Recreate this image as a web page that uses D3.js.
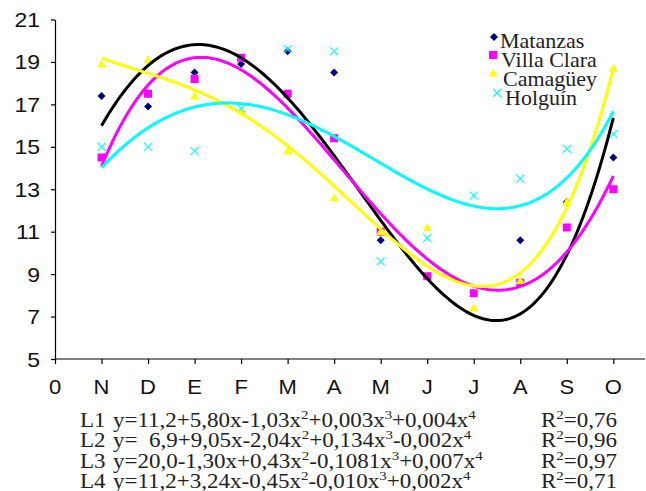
<!DOCTYPE html>
<html>
<head>
<meta charset="utf-8">
<script src="https://cdn.jsdelivr.net/npm/d3@7/dist/d3.min.js"></script>
<style>
body { margin: 0; background: #fff; }
text { white-space: pre; }
</style>
</head>
<body>
<svg id="chart" width="646" height="491"></svg>
<script>
// ---- data ----
var monthLabels = ['0', 'N', 'D', 'E', 'F', 'M', 'A', 'M', 'J', 'J', 'A', 'S', 'O'];
var yTicks = [5, 7, 9, 11, 13, 15, 17, 19, 21];
var seriesNames = ['Matanzas', 'Villa Clara', 'Camagüey', 'Holguín'];
// Matanzas J and J fall below the axis minimum (clipped in the picture)
var matanzas   = [17.4, 16.9, 18.5, 18.9, 19.5, 18.5, 10.6, 4.6, 4.1, 10.6, 12.4, 14.5];
var villaClara = [14.5, 17.5, 18.2, 19.2, 17.5, 15.4, 11.0, 8.9, 8.1, 8.6, 11.2, 13.0];
var camaguey   = [18.9, 19.1, 17.4, 16.7, 14.8, 12.6, 11.0, 11.2, 7.4, 8.7, 12.4, 18.7];
var holguin    = [15.0, 15.0, 14.8, 16.8, 19.6, 19.5, 9.6, 10.7, 12.7, 13.5, 14.9, 15.6];
var lineLabels = ['L1', 'L2', 'L3', 'L4'];
var equations = [
    'y=11,2+5,80x-1,03x^2+0,003x^3+0,004x^4',
    'y=  6,9+9,05x-2,04x^2+0,134x^3-0,002x^4',
    'y=20,0-1,30x+0,43x^2-0,1081x^3+0,007x^4',
    'y=11,2+3,24x-0,45x^2-0,010x^3+0,002x^4'
];
var rSquared = ['0,76', '0,96', '0,97', '0,71'];

var allSeries = [matanzas, villaClara, camaguey, holguin];
var markerColors = ['#000080', '#ff00ff', '#ffff00', '#00ffff'];
var trendColors = ['#000000', '#ff00ff', '#ffff00', '#00ffff'];
var markerTypes = ['diamond', 'square', 'triangle', 'cross'];

var svg = d3.select('#chart');

var x = d3.scaleLinear().domain([0, 12]).range([55, 613.3]);
var y = d3.scaleLinear().domain([5, 21]).range([359, 19.5]);

// least squares polynomial (like the spreadsheet trendline)
function polyfit(xs, ys, deg) {
    var n = deg + 1, A = [], i, j, k;
    for (i = 0; i < n; i++) {
        A.push([]);
        for (j = 0; j < n; j++) {
            A[i].push(d3.sum(xs, function(v) { return Math.pow(v, i + j); }));
        }
        A[i].push(d3.sum(xs, function(v, m) { return Math.pow(v, i) * ys[m]; }));
    }
    for (i = 0; i < n; i++) {
        var p = i;
        for (k = i + 1; k < n; k++) if (Math.abs(A[k][i]) > Math.abs(A[p][i])) p = k;
        var tmp = A[i]; A[i] = A[p]; A[p] = tmp;
        for (k = i + 1; k < n; k++) {
            var f = A[k][i] / A[i][i];
            for (j = i; j <= n; j++) A[k][j] -= f * A[i][j];
        }
    }
    var c = new Array(n);
    for (i = n - 1; i >= 0; i--) {
        var s = A[i][n];
        for (j = i + 1; j < n; j++) s -= A[i][j] * c[j];
        c[i] = s / A[i][i];
    }
    return function(v) {
        var r = 0;
        for (var q = 0; q < n; q++) r += c[q] * Math.pow(v, q);
        return r;
    };
}

function markerPath(type) {
    if (type === 'diamond') return 'M0,-4L4,0L0,4L-4,0Z';
    if (type === 'square') return 'M-4,-4H4V4H-4Z';
    if (type === 'triangle') return 'M0,-4.5L4.5,3.5H-4.5Z';
    return 'M-4,-4L4,4M4,-4L-4,4';
}

function drawMarker(g, type, color, cx, cy) {
    var p = g.append('path')
        .attr('transform', 'translate(' + cx + ',' + cy + ')')
        .attr('d', markerPath(type));
    if (type === 'cross') {
        p.attr('fill', 'none').attr('stroke', color).attr('stroke-width', 1.1);
    } else {
        p.attr('fill', color);
    }
}

// text a bit wider than tall, as in the picture
function stretchText(parent, tx, ty, sx, anchor) {
    return parent.append('g')
        .attr('transform', 'translate(' + tx + ',' + ty + ') scale(' + sx + ',1)')
        .append('text')
        .attr('text-anchor', anchor || 'start');
}

function addSupText(t, str) {
    var parts = str.split(/\^(\d)/);
    parts.forEach(function(part, i) {
        if (i % 2 === 0) {
            if (part) t.append('tspan').attr('dy', i === 0 ? 0 : 8).text(part);
        } else {
            t.append('tspan').attr('dy', -8).attr('font-size', 13).text(part);
        }
    });
}

svg.append('defs').append('clipPath').attr('id', 'plotClip')
    .append('rect').attr('x', 50).attr('y', y(21) - 6).attr('width', 596).attr('height', y(5) - y(21) + 6);

// ---- axes ----
var yAxis = d3.axisLeft(y).tickValues(yTicks).tickSize(4).tickSizeOuter(0).tickFormat('');
var gy = svg.append('g').attr('transform', 'translate(' + x(0) + ',0)').call(yAxis);
gy.selectAll('line, path').attr('stroke', '#000').attr('stroke-width', 1.2);

var xAxis = d3.axisBottom(x).tickValues(d3.range(0, 13)).tickSize(5).tickSizeOuter(0).tickFormat('');
var gx = svg.append('g').attr('transform', 'translate(0,' + y(5) + ')').call(xAxis);
gx.select('.domain').remove();
gx.selectAll('line').attr('stroke', '#000').attr('stroke-width', 1.2);
svg.append('line')
    .attr('x1', x(0)).attr('x2', 645)
    .attr('y1', y(5)).attr('y2', y(5))
    .attr('stroke', '#000').attr('stroke-width', 1.2);

yTicks.forEach(function(v) {
    stretchText(svg, 40, y(v) + 7.5, 1.15, 'end')
        .attr('font-family', 'Liberation Sans, Arial, sans-serif')
        .attr('font-size', 20)
        .attr('fill', '#111')
        .text(v);
});

monthLabels.forEach(function(m, i) {
    stretchText(svg, x(i), 394, 1.1, 'middle')
        .attr('font-family', 'Liberation Sans, Arial, sans-serif')
        .attr('font-size', 20)
        .attr('fill', '#111')
        .text(m);
});

// ---- markers then trend lines ----
var plot = svg.append('g').attr('clip-path', 'url(#plotClip)');
var months = d3.range(1, 13);

allSeries.forEach(function(vals, s) {
    vals.forEach(function(v, i) {
        drawMarker(plot, markerTypes[s], markerColors[s], x(months[i]), y(v));
    });
});

var line = d3.line()
    .x(function(d) { return x(d[0]); })
    .y(function(d) { return y(d[1]); });

allSeries.forEach(function(vals, s) {
    var fit = polyfit(months, vals, 4);
    var pts = d3.range(1, 12.001, 0.05).map(function(t) { return [t, fit(t)]; });
    plot.append('path')
        .attr('d', line(pts))
        .attr('fill', 'none')
        .attr('stroke', trendColors[s])
        .attr('stroke-width', 3)
        .attr('stroke-linejoin', 'round');
});

// ---- legend ----
var legendMarkerPos = [[494, 37], [493, 55], [493, 73], [497, 93]];
var legendTextPos = [[500, 48], [501, 67], [503, 86], [505, 105]];
seriesNames.forEach(function(name, s) {
    drawMarker(svg, markerTypes[s], markerColors[s], legendMarkerPos[s][0], legendMarkerPos[s][1]);
    stretchText(svg, legendTextPos[s][0], legendTextPos[s][1], 1.1)
        .attr('font-family', 'Liberation Serif, Times New Roman, serif')
        .attr('font-size', 20)
        .attr('fill', '#222')
        .text(name);
});

// ---- equations ----
var eqBaselines = [427, 447, 468, 488];
equations.forEach(function(eq, i) {
    var yy = eqBaselines[i];
    stretchText(svg, 80, yy, 1.15)
        .attr('font-family', 'Liberation Serif, Times New Roman, serif')
        .attr('font-size', 20).attr('fill', '#222')
        .text(lineLabels[i]);
    var t = stretchText(svg, 113, yy, 1.15)
        .attr('font-family', 'Liberation Serif, Times New Roman, serif')
        .attr('font-size', 20).attr('fill', '#222');
    addSupText(t, eq);
    var r = stretchText(svg, 541, yy, 1.15)
        .attr('font-family', 'Liberation Serif, Times New Roman, serif')
        .attr('font-size', 20).attr('fill', '#222');
    addSupText(r, 'R^2=' + rSquared[i]);
});
</script>
</body>
</html>
